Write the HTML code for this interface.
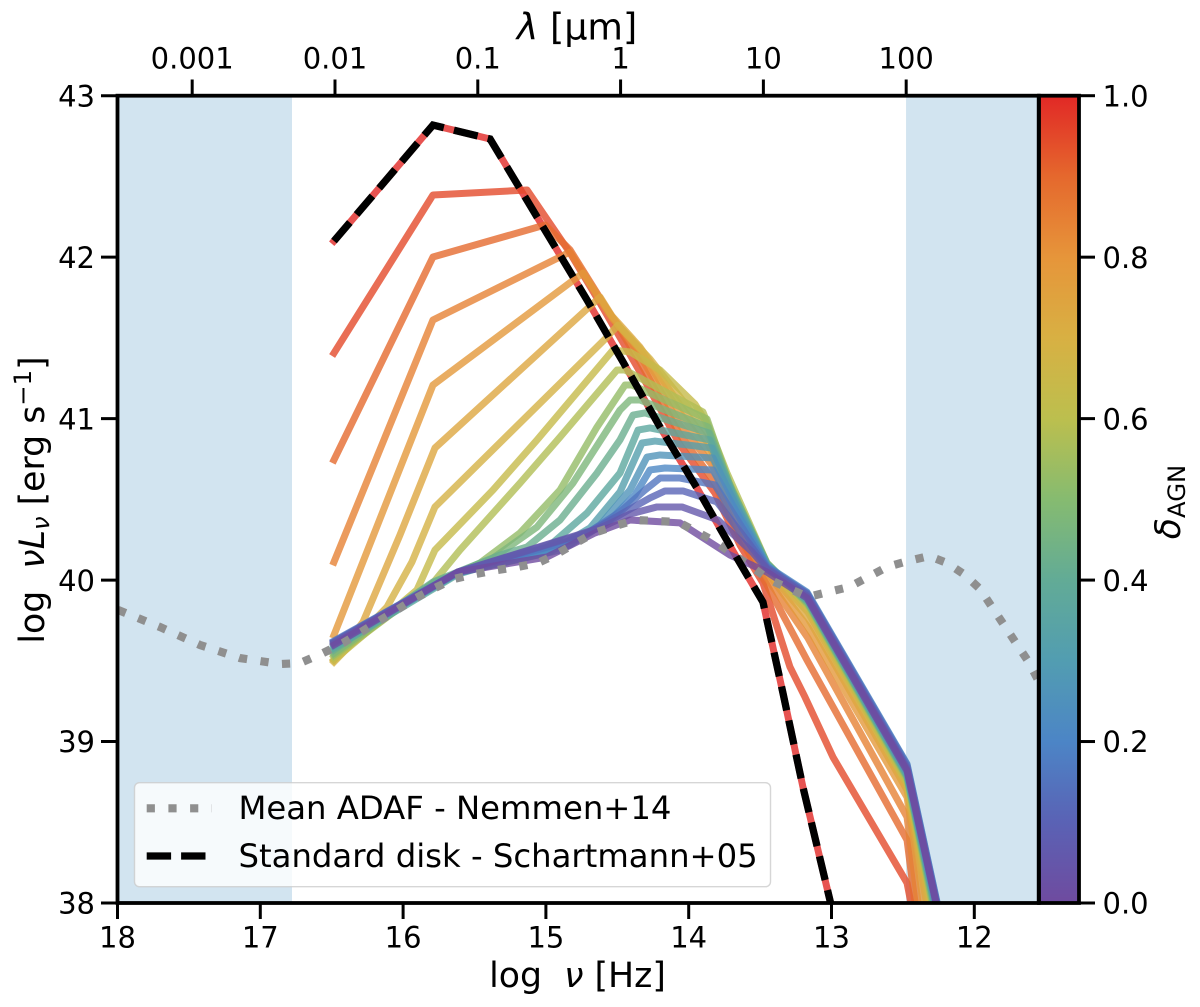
<!DOCTYPE html>
<html lang="en">
<head>
<meta charset="utf-8">
<title>AGN SED models</title>
<style>
html,body{margin:0;padding:0;background:#fff;}
svg{display:block;}
text{font-family:"DejaVu Sans","Liberation Sans",sans-serif;fill:#000;}
</style>
</head>
<body>
<svg id="chart" xmlns="http://www.w3.org/2000/svg" width="1200" height="1007" viewBox="0 0 1200 1007">
  <defs>
    <clipPath id="plot-clip"><rect x="117.5" y="95.7" width="921.2" height="807.3"/></clipPath>
    <linearGradient id="cbar-gradient" x1="0" y1="1" x2="0" y2="0">
      <stop offset="0" stop-color="#6f4b9f"/>
      <stop offset="0.1" stop-color="#5a62b5"/>
      <stop offset="0.2" stop-color="#4c85c6"/>
      <stop offset="0.3" stop-color="#529db1"/>
      <stop offset="0.4" stop-color="#62ab96"/>
      <stop offset="0.5" stop-color="#86bb70"/>
      <stop offset="0.6" stop-color="#bcbf4e"/>
      <stop offset="0.7" stop-color="#d8b043"/>
      <stop offset="0.8" stop-color="#e6953a"/>
      <stop offset="0.9" stop-color="#e5682d"/>
      <stop offset="1" stop-color="#e12826"/>
    </linearGradient>
  </defs>
  <g id="spans"></g>
  <g id="models" clip-path="url(#plot-clip)"></g>
  <g id="refs" clip-path="url(#plot-clip)"></g>
  <rect x="1039" y="95.7" width="40" height="807.3" fill="url(#cbar-gradient)" stroke="#000" stroke-width="3.8"/>
  <g id="axes"></g>

  <g>
    <rect x="134.5" y="782.7" width="636" height="104" rx="5" fill="#fff" fill-opacity="0.8" stroke="#ccc" stroke-opacity="0.8" stroke-width="1.4"/>
    <line x1="146.7" y1="808.3" x2="212" y2="808.3" stroke="#8f8f8f" stroke-width="8.2" stroke-dasharray="8.2 13.5"/>
    <text x="238.5" y="819" font-size="32.3">Mean ADAF - Nemmen+14</text>
    <line x1="146.7" y1="856" x2="212" y2="856" stroke="#000" stroke-width="7.3" stroke-dasharray="24.4 10"/>
    <text x="238.5" y="867" font-size="32.3">Standard disk - Schartmann+05</text>
  </g>

  <text x="577.5" y="987" font-size="34.7" text-anchor="middle" xml:space="preserve">log  <tspan font-style="italic">ν</tspan> [Hz]</text>
  <text x="577" y="39.5" font-size="36.5" text-anchor="middle"><tspan font-style="italic">λ</tspan> [μm]</text>
  <text transform="translate(44,500) rotate(-90)" font-size="34.7" text-anchor="middle" xml:space="preserve">log  <tspan font-style="italic">νL</tspan><tspan font-style="italic" font-size="24.3" dy="5">ν</tspan><tspan dy="-5"> [erg s</tspan><tspan font-size="24.3" dy="-13">−1</tspan><tspan dy="13">]</tspan></text>
  <text transform="translate(1180,502) rotate(-90)" font-size="34.7" text-anchor="middle"><tspan font-style="italic">δ</tspan><tspan font-size="24.3" dy="5">AGN</tspan></text>
</svg>

<script>
const xTickValues = [18, 17, 16, 15, 14, 13, 12];
const yTickValues = [38, 39, 40, 41, 42, 43];
const lambdaTickValues = [0.001, 0.01, 0.1, 1, 10, 100];
const lambdaTickLabels = ["0.001", "0.01", "0.1", "1", "10", "100"];
const colorbarTickValues = [0, 0.2, 0.4, 0.6, 0.8, 1];
const colorbarTickLabels = ["0.0", "0.2", "0.4", "0.6", "0.8", "1.0"];

const shadedLeft = [18, 16.778];
const shadedRight = [12.478, 11.55];

const diskNu = [16.484,15.791,15.391,14.712,14.460,14.201,13.942,13.662,13.480,13.340,13.200,13.003];
const diskLum = [42.100,42.818,42.732,41.735,41.351,40.948,40.570,40.137,39.864,39.301,38.718,37.988];

const adafNu = [17.996,17.702,17.422,17.142,16.862,16.722,16.561,16.421,16.295,16.169,16.043,15.910,15.777,15.644,15.496,15.342,15.202,15.055,14.922,14.789,14.663,14.516,14.376,14.222,14.075,13.942,13.809,13.683,13.557,13.445,13.305,13.165,13.025,12.877,12.744,12.611,12.464,12.317,12.191,12.065,11.960,11.876,11.792,11.708,11.624,11.561,11.505];
const adafLum = [39.815,39.709,39.598,39.517,39.480,39.486,39.548,39.610,39.678,39.746,39.815,39.889,39.951,40.007,40.037,40.062,40.081,40.106,40.162,40.230,40.292,40.335,40.372,40.366,40.360,40.298,40.236,40.155,40.081,40.007,39.951,39.895,39.926,39.957,40.019,40.081,40.118,40.149,40.106,40.032,39.945,39.833,39.722,39.610,39.499,39.394,39.307];

const nu00 = diskNu;
const lum00 = diskLum;
const nu01 = [16.484,15.791,15.132,14.831,14.621,14.341,14.061,13.816,13.641,13.480,13.291,13.186,12.990,12.471,12.366];
const lum01 = [41.406,42.385,42.416,42.026,41.716,41.289,40.837,40.539,40.217,39.982,39.462,39.276,38.904,38.124,37.647];
const nu02 = [16.484,15.791,15.006,14.831,14.621,14.341,14.061,13.830,13.641,13.452,13.172,12.471,12.366];
const lum02 = [40.744,42.001,42.199,42.045,41.747,41.351,40.899,40.620,40.261,39.970,39.505,38.390,37.660];
const nu03 = [16.484,15.791,14.831,14.621,14.341,14.061,13.837,13.662,13.452,13.165,12.471,12.345];
const lum03 = [40.112,41.611,42.032,41.735,41.394,40.960,40.713,40.341,40.013,39.641,38.532,37.660];
const nu04 = [16.484,15.791,14.740,14.537,14.341,14.061,13.851,13.676,13.452,13.165,12.471,12.310];
const lum04 = [39.660,41.208,41.902,41.623,41.425,41.035,40.787,40.434,40.050,39.709,38.656,37.740];
const nu05 = [16.484,16.281,16.022,15.777,14.621,14.537,14.341,14.061,13.865,13.690,13.452,13.165,12.471,12.275];
const lum05 = [39.505,39.740,40.279,40.818,41.753,41.635,41.443,41.084,40.849,40.496,40.062,39.765,38.700,37.696];
const nu06 = [16.484,16.113,15.938,15.777,14.572,14.495,14.271,14.061,13.872,13.704,13.452,13.165,12.471,12.261];
const lum06 = [39.493,39.833,40.112,40.453,41.505,41.580,41.369,41.134,40.917,40.558,40.075,39.802,38.731,37.734];
const nu07 = [16.484,15.903,15.777,15.370,15.062,14.530,14.411,14.201,13.956,13.886,13.718,13.452,13.165,12.471,12.254];
const lum07 = [39.505,39.939,40.186,40.558,40.868,41.425,41.413,41.301,41.090,40.991,40.607,40.087,39.833,38.743,37.802];
const nu08 = [16.484,15.791,15.602,15.181,14.901,14.502,14.446,13.900,13.732,13.452,13.165,12.471,12.240];
const lum08 = [39.524,39.982,40.186,40.601,40.886,41.301,41.301,41.041,40.663,40.106,39.846,38.762,37.758];
const nu09 = [16.484,15.791,15.461,15.181,14.901,14.642,14.446,14.397,13.872,13.718,13.452,13.165,12.471,12.226];
const lum09 = [39.536,39.976,40.106,40.292,40.558,40.948,41.208,41.208,40.998,40.601,40.106,39.852,38.774,37.709];
const nu10 = [16.484,15.791,15.391,15.062,14.810,14.481,14.411,14.341,13.865,13.704,13.452,13.165,12.471,12.219];
const lum10 = [39.548,39.982,40.124,40.329,40.601,41.053,41.115,41.115,40.948,40.570,40.106,39.858,38.780,37.709];
const nu11 = [16.484,15.791,15.321,15.132,14.901,14.642,14.481,14.390,14.306,13.858,13.690,13.452,13.165,12.471,12.212];
const lum11 = [39.567,39.988,40.155,40.205,40.372,40.663,40.868,41.022,41.035,40.911,40.539,40.099,39.864,38.786,37.703];
const nu12 = [16.484,15.616,14.992,14.712,14.481,14.355,14.271,13.851,13.676,13.452,13.165,12.471,12.212];
const lum12 = [39.579,40.037,40.199,40.415,40.663,40.929,40.942,40.868,40.502,40.099,39.870,38.793,37.709];
const nu13 = [16.484,15.616,14.971,14.691,14.481,14.327,14.236,13.837,13.662,13.452,13.165,12.471,12.205];
const lum13 = [39.592,40.044,40.174,40.323,40.546,40.849,40.861,40.818,40.465,40.093,39.877,38.799,37.709];
const nu14 = [16.484,15.616,14.901,14.621,14.411,14.292,14.201,13.830,13.648,13.452,13.165,12.471,12.205];
const lum14 = [39.604,40.044,40.186,40.341,40.558,40.762,40.775,40.756,40.422,40.087,39.889,38.811,37.721];
const nu15 = [16.484,15.616,14.831,14.551,14.376,14.271,14.166,13.830,13.634,13.452,13.172,12.471,12.205];
const lum15 = [39.617,40.050,40.217,40.372,40.527,40.682,40.694,40.682,40.372,40.087,39.926,38.861,37.777];
const nu16 = [16.484,15.616,14.761,14.481,14.306,14.201,14.061,13.816,13.606,13.452,13.172,12.471,12.205];
const lum16 = [39.623,40.050,40.261,40.422,40.558,40.632,40.632,40.589,40.298,40.081,39.920,38.855,37.771];
const nu17 = [16.484,15.616,14.691,14.446,14.271,14.166,14.040,13.802,13.585,13.452,13.172,12.471,12.205];
const lum17 = [39.617,40.050,40.298,40.422,40.509,40.552,40.552,40.484,40.236,40.075,39.914,38.842,37.758];
const nu18 = [16.484,15.616,14.621,14.411,14.222,14.047,13.795,13.556,13.452,13.172,12.471,12.205];
const lum18 = [39.610,40.050,40.323,40.409,40.453,40.453,40.372,40.174,40.068,39.901,38.830,37.746];
const nu19 = [16.484,15.616,14.992,14.656,14.411,14.061,13.711,13.452,13.172,12.471,12.205];
const lum19 = [39.598,40.050,40.143,40.292,40.372,40.354,40.155,40.050,39.889,38.818,37.746];

const modelDeltas = [1,0.947,0.895,0.842,0.789,0.737,0.684,0.632,0.579,0.526,0.474,0.421,0.368,0.316,0.263,0.211,0.158,0.105,0.053,0];
const modelNu = [nu00,nu01,nu02,nu03,nu04,nu05,nu06,nu07,nu08,nu09,nu10,nu11,nu12,nu13,nu14,nu15,nu16,nu17,nu18,nu19];
const modelLum = [lum00,lum01,lum02,lum03,lum04,lum05,lum06,lum07,lum08,lum09,lum10,lum11,lum12,lum13,lum14,lum15,lum16,lum17,lum18,lum19];

const colormapHex = ["#6f4b9f","#5a62b5","#4c85c6","#529db1","#62ab96","#86bb70","#bcbf4e","#d8b043","#e6953a","#e5682d","#e12826"];

const NS = "http://www.w3.org/2000/svg";
function xOf(nu) { return 117.5 + 142.8 * (18 - nu); }
function yOf(lum) { return 903 - 161.46 * (lum - 38); }
function cbarY(v) { return 903 - 807.3 * v; }
function nuOfLambda(lam) { return 14.477 - Math.log10(lam); }

function hexRgb(h) {
  return [parseInt(h.slice(1,3),16), parseInt(h.slice(3,5),16), parseInt(h.slice(5,7),16)];
}
function colorOf(d) {
  const p = Math.min(d, 0.99999) * (colormapHex.length - 1);
  const i = Math.floor(p);
  const t = p - i;
  const a = hexRgb(colormapHex[i]);
  const b = hexRgb(colormapHex[i + 1]);
  const c = a.map(function (v, j) { return Math.round(v + (b[j] - v) * t); });
  return "rgb(" + c.join(",") + ")";
}
function pointsOf(nus, lums) {
  return nus.map(function (n, i) { return xOf(n).toFixed(2) + "," + yOf(lums[i]).toFixed(2); }).join(" ");
}

const modelsGroup = document.getElementById("models");
modelDeltas.forEach(function (d, k) {
  const el = document.createElementNS(NS, "polyline");
  el.setAttribute("points", pointsOf(modelNu[k], modelLum[k]));
  el.setAttribute("fill", "none");
  el.setAttribute("stroke", colorOf(d));
  el.setAttribute("stroke-opacity", "0.8");
  el.setAttribute("stroke-width", "7");
  el.setAttribute("stroke-linejoin", "round");
  el.setAttribute("stroke-linecap", "square");
  
  
  modelsGroup.appendChild(el);
});

const refsGroup = document.getElementById("refs");
const adafLine = document.createElementNS(NS, "polyline");
adafLine.setAttribute("points", pointsOf(adafNu, adafLum));
adafLine.setAttribute("fill", "none");
adafLine.setAttribute("stroke", "#8f8f8f");
adafLine.setAttribute("stroke-width", "8.2");
adafLine.setAttribute("stroke-dasharray", "8.2 13.5");


refsGroup.appendChild(adafLine);

const diskLine = document.createElementNS(NS, "polyline");
diskLine.setAttribute("points", pointsOf(diskNu, diskLum));
diskLine.setAttribute("fill", "none");
diskLine.setAttribute("stroke", "#000");
diskLine.setAttribute("stroke-width", "7.3");
diskLine.setAttribute("stroke-dasharray", "24.4 10.4");


refsGroup.appendChild(diskLine);

const spansGroup = document.getElementById("spans");
[shadedLeft, shadedRight].forEach(function (s) {
  const r = document.createElementNS(NS, "rect");
  r.setAttribute("x", xOf(s[0]));
  r.setAttribute("y", 95.7);
  r.setAttribute("width", xOf(s[1]) - xOf(s[0]));
  r.setAttribute("height", 807.3);
  r.setAttribute("fill", "#d2e4f0");
  
  
  spansGroup.appendChild(r);
});

const axesGroup = document.getElementById("axes");
function tickLine(x1, y1, x2, y2) {
  const l = document.createElementNS(NS, "line");
  l.setAttribute("x1", x1);
  l.setAttribute("y1", y1);
  l.setAttribute("x2", x2);
  l.setAttribute("y2", y2);
  l.setAttribute("stroke", "#000");
  l.setAttribute("stroke-width", "3");
  
  
  axesGroup.appendChild(l);
}
function tickLabel(x, y, str, anchor) {
  const t = document.createElementNS(NS, "text");
  t.setAttribute("x", x);
  t.setAttribute("y", y);
  t.setAttribute("font-size", "29");
  t.setAttribute("text-anchor", anchor);
  t.textContent = str;
  
  
  axesGroup.appendChild(t);
}

xTickValues.forEach(function (v) {
  tickLine(xOf(v), 903, xOf(v), 919);
  tickLabel(xOf(v), 947.5, String(v), "middle");
});
yTickValues.forEach(function (v) {
  tickLine(101, yOf(v), 117.5, yOf(v));
  tickLabel(95, yOf(v) + 10.7, String(v), "end");
});
lambdaTickValues.forEach(function (v, i) {
  const x = xOf(nuOfLambda(v));
  tickLine(x, 79.5, x, 95.7);
  tickLabel(x, 68.3, lambdaTickLabels[i], "middle");
});
colorbarTickValues.forEach(function (v, i) {
  tickLine(1079, cbarY(v), 1095, cbarY(v));
  tickLabel(1102.5, cbarY(v) + 10.7, colorbarTickLabels[i], "start");
});

const frame = document.createElementNS(NS, "rect");
frame.setAttribute("x", 117.5);
frame.setAttribute("y", 95.7);
frame.setAttribute("width", 921.2);
frame.setAttribute("height", 807.3);
frame.setAttribute("fill", "none");
frame.setAttribute("stroke", "#000");
frame.setAttribute("stroke-width", "3.8");


axesGroup.appendChild(frame);
</script>
</body>
</html>
